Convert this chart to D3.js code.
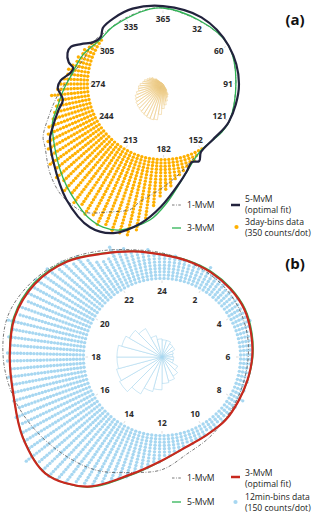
<!DOCTYPE html>
<html>
<head>
<meta charset="utf-8">
<script src="https://cdn.jsdelivr.net/npm/d3@7"></script>
<style>
body { margin: 0; background: #fff; }
svg { display: block; font-family: "Open Sans", sans-serif; }
</style>
</head>
<body>
<div id="chart-area"></div>
<script>
// ---------- panel (a): day of year, 3-day bins ----------
var dayLabels = [365, 32, 60, 91, 121, 152, 182, 213, 244, 274, 305, 335];
// dots per 3-day bin (122 bins, bin 0 starts at day 0)
var dayCounts = [
  0,0,0,0,0,0,0,0,0,0, 0,0,0,0,0,0,0,0,0,0,
  0,0,0,0,0,0,0,0,0,0, 0,0,0,0,0,0,0,0,0,0,
  0,0,0,0,0,0,0,0,0,0,
  1,1,2,3,3,4,5,6,7,9, 10,12,15,19,23,25,25,25,24,25,
  23,24,22,23,21,22,20,21,19,20, 18,18,17,16,15,13,12,11,10,12,
  10,9,8,7,7,6,5,5,4,4, 3,3,2,1,
  0,0,0,0,0,0,0,0,0,0, 0,0,0,0,0,0,0,0
];
// fitted densities (in dot units) at given days
var mvm1DaysA = [0, 60, 120, 150.9, 160.7, 173.8, 184.1, 193.6, 197.4, 205.3, 214.3, 221, 226.5, 235, 245.3, 249.6, 257.4, 268, 278.3, 288.1, 294.4, 304.8, 319, 335];
var mvm1ValsA = [0.6, 0.6, 0.6, 0.7, 2.1, 5.8, 9.5, 13.8, 16.9, 19.5, 23.1, 23.4, 23.1, 21.2, 18.1, 17.3, 13.7, 9.5, 5.7, 3.3, 2.5, 2.3, 0.9, 0.6];
var mvm3DaysA = [0, 60, 120, 153.9, 167.3, 180.5, 188.1, 199.1, 205.6, 212.3, 218.9, 226.1, 233.3, 246.4, 254.1, 261.4, 270.3, 278.3, 294, 309, 325];
var mvm3ValsA = [0.6, 0.6, 0.6, 1.0, 5.2, 13.5, 19.0, 23.7, 24.6, 23.9, 22.1, 20.2, 18.2, 14.8, 13.1, 10.3, 7.8, 5.7, 3.4, 0.9, 0.6];
var mvm5DaysA = [0, 30.4, 60.8, 91.3, 121.7, 139.9, 153, 157, 162, 167, 172.4, 183.5, 191.6, 201.2, 209.9, 223, 238.3, 247.4, 251.4, 259.6, 264.6, 271.7, 275.8, 280.8, 283.9, 286.9, 292, 296, 300.1, 305.2, 311.2, 317.4, 327.5, 342.7];
var mvm5ValsA = [1.2, 0.9, 0.6, 0.6, 0.6, 0.2, 1.2, 3.4, 2.8, 5.0, 7.7, 14.8, 20.3, 25.2, 26.3, 23.2, 18.2, 15.7, 13.8, 10.2, 8.3, 9.5, 8.6, 5.8, 5.2, 6.9, 8.0, 7.7, 5.2, 2.2, 1.2, 2.5, 2.5, 2.2];

// ---------- panel (b): hour of day, 12-min bins ----------
var hourLabels = [24, 2, 4, 6, 8, 10, 12, 14, 16, 18, 20, 22];
// dots per 12-min bin (120 bins, bin 0 starts at 0h)
var hourCounts = [
  8,7,8,7,7,6,7,7,6,8, 6,6,6,6,5,6,5,6,5,5,
  5,5,6,5,4,4,4,4,4,4, 4,4,3,4,3,4,3,4,3,5,
  3,4,3,4,3,4,3,4,4,3, 4,4,4,5,4,5,6,6,7,7,
  9,9,11,12,13,15,16,18,19,21, 22,23,25,26,27,27,26,29,26,26,
  25,24,25,23,24,23,23,24,23,24, 24,23,24,23,25,22,23,21,22,21,
  22,20,21,18,19,16,17,14,12,11, 11,14,12,12,10,10,9,10,8,8
];
// hourly rose (relative frequency, 1-hour sectors)
var hourRose = [0.35, 0.35, 0.31, 0.30, 0.24, 0.22, 0.24, 0.24, 0.37, 0.45, 0.51, 0.54, 0.67, 0.73, 0.87, 1.0, 0.96, 0.92, 0.92, 0.85, 0.77, 0.67, 0.45, 0.37];
// fitted densities (in dot units) at each full hour 0..23
var mvm1ValsB = [8.2, 6.6, 5.6, 4.9, 4.1, 3.4, 2.8, 2.55, 2.8, 3.5, 5.0, 6.9, 10.8, 12.9, 16.3, 18.6, 21.0, 23.3, 24.8, 25.0, 22.2, 18.2, 13.8, 10.3];
var mvm3ValsB = [7.7, 6.8, 6.3, 5.9, 5.5, 4.6, 4.0, 3.5, 3.4, 3.8, 3.9, 4.9, 8.0, 13.5, 22.0, 26.6, 25.4, 23.2, 22.8, 22.9, 21.1, 17.5, 12.8, 9.8];
var mvm5ValsB = [7.8, 7.0, 6.6, 6.2, 5.8, 4.9, 4.2, 3.6, 3.4, 3.7, 3.9, 4.9, 8.1, 13.8, 22.2, 26.5, 25.3, 23.2, 22.9, 23.2, 21.5, 17.8, 13.0, 9.9];

var W = 320, H = 514;
var step = 3.3, dotR = 1.7;

var svg = d3.select('#chart-area').append('svg')
    .attr('width', W)
    .attr('height', H);

var defs = svg.append('defs');
var gGold = defs.append('radialGradient')
    .attr('id', 'goldGrad').attr('gradientUnits', 'userSpaceOnUse')
    .attr('cx', 0).attr('cy', 0).attr('r', 24);
gGold.append('stop').attr('offset', '0%').attr('stop-color', '#b27a00').attr('stop-opacity', 1);
gGold.append('stop').attr('offset', '40%').attr('stop-color', '#e6b548').attr('stop-opacity', 0.45);
gGold.append('stop').attr('offset', '100%').attr('stop-color', '#ffffff').attr('stop-opacity', 0);

function polarPanel(opt) {
    var g = svg.append('g')
        .attr('transform', 'translate(' + opt.cx + ',' + opt.cy + ')');

    var nb = opt.counts.length;
    var binAng = d3.scaleLinear().domain([0, nb]).range([0, 2 * Math.PI]);
    var ang = d3.scaleLinear().domain([0, opt.period]).range([0, 2 * Math.PI]);
    var rad = d3.scaleLinear().domain([0, 1]).range([opt.r0, opt.r0 + step]);

    // rose in the middle
    var petals = opt.rose.map(function(v, i){ return { i: i, v: v }; });
    var roseAng = d3.scaleLinear().domain([0, petals.length]).range([0, 2 * Math.PI]);
    var rose = opt.roseScale.domain([0, d3.max(petals, function(d){ return d.v; })]).range([0, opt.roseMax]);
    var arc = d3.arc().innerRadius(0);
    g.selectAll('path.petal')
        .data(petals.filter(function(d){ return d.v > 0; }))
        .enter().append('path')
        .attr('class', 'petal')
        .attr('d', function(d){
            return arc({ startAngle: roseAng(d.i), endAngle: roseAng(d.i + 1), outerRadius: rose(d.v) });
        })
        .attr('fill', opt.roseFill)
        .attr('stroke', opt.roseStroke)
        .attr('stroke-width', 0.6);
    if (opt.centerDot) {
        g.append('circle').attr('r', 1.6).attr('fill', opt.dotColor);
    }

    // labels
    g.selectAll('text.lab')
        .data(opt.labels)
        .enter().append('text')
        .attr('class', 'lab')
        .attr('x', function(d){ return d3.pointRadial(ang(d % opt.period), opt.labR)[0]; })
        .attr('y', function(d){ return d3.pointRadial(ang(d % opt.period), opt.labR)[1]; })
        .attr('dy', '0.35em')
        .attr('text-anchor', 'middle')
        .attr('font-size', 8.4)
        .attr('font-weight', 700)
        .attr('fill', '#2b2b2b')
        .text(function(d){ return d; });

    // small ticks at the inner ring
    g.selectAll('line.tk')
        .data(opt.labels)
        .enter().append('line')
        .attr('class', 'tk')
        .attr('x1', function(d){ return d3.pointRadial(ang(d % opt.period), opt.r0 - 3)[0]; })
        .attr('y1', function(d){ return d3.pointRadial(ang(d % opt.period), opt.r0 - 3)[1]; })
        .attr('x2', function(d){ return d3.pointRadial(ang(d % opt.period), opt.r0 - 0.5)[0]; })
        .attr('y2', function(d){ return d3.pointRadial(ang(d % opt.period), opt.r0 - 0.5)[1]; })
        .attr('stroke', '#cfcfcf')
        .attr('stroke-width', 0.7);

    // dots
    var dots = [];
    opt.counts.forEach(function(c, i){
        for (var k = 0; k < c; k++) {
            dots.push(d3.pointRadial(binAng(i + 0.5), rad(k + 0.5)));
        }
    });
    g.selectAll('circle.dot')
        .data(dots)
        .enter().append('circle')
        .attr('class', 'dot')
        .attr('cx', function(d){ return d[0]; })
        .attr('cy', function(d){ return d[1]; })
        .attr('r', dotR)
        .attr('fill', opt.dotColor);

    // fitted curves
    var line = d3.lineRadial()
        .angle(function(d){ return ang(d[0]); })
        .radius(function(d){ return rad(d[1]); })
        .curve(d3.curveCatmullRomClosed.alpha(0.5));
    opt.curves.forEach(function(c){
        g.append('path')
            .datum(d3.zip(c.x, c.y))
            .attr('d', line)
            .attr('fill', 'none')
            .attr('stroke', c.color)
            .attr('stroke-width', c.width)
            .attr('stroke-dasharray', c.dash || null)
            .attr('stroke-linejoin', 'round');
    });
}

var dashDot = '3.2,1.6,0.8,1.6';
var hours = d3.range(24);

// rose of panel (a): 6-day sectors from the dot counts
var dayRose = d3.range(61).map(function(j){ return dayCounts[2 * j] + dayCounts[2 * j + 1]; });

polarPanel({
    cx: 163, cy: 84, r0: 74, labR: 65, period: 365,
    counts: dayCounts, labels: dayLabels, rose: dayRose, roseScale: d3.scaleSqrt(),
    dotColor: '#ffb000', roseMax: 37, roseFill: 'url(#goldGrad)', roseStroke: '#efcf8e',
    curves: [
        { x: mvm1DaysA, y: mvm1ValsA, color: '#555', width: 0.8, dash: dashDot },
        { x: mvm3DaysA, y: mvm3ValsA, color: '#2fb455', width: 1.3 },
        { x: mvm5DaysA, y: mvm5ValsA, color: '#22233d', width: 2.2 }
    ]
});

polarPanel({
    cx: 162, cy: 357, r0: 77, labR: 66, period: 24,
    counts: hourCounts, labels: hourLabels, rose: hourRose, roseScale: d3.scaleLinear(),
    dotColor: '#a7d7f1', roseMax: 49, roseFill: '#fff', roseStroke: '#a9d6ef', centerDot: true,
    curves: [
        { x: hours, y: mvm1ValsB, color: '#555', width: 0.8, dash: dashDot },
        { x: hours, y: mvm5ValsB, color: '#2fb455', width: 1.3 },
        { x: hours, y: mvm3ValsB, color: '#c8281e', width: 2.2 }
    ]
});

// panel letters
svg.append('text').attr('x', 295).attr('y', 25).attr('text-anchor', 'middle')
    .attr('font-size', 15).attr('font-weight', 700).attr('fill', '#111').text('(a)');
svg.append('text').attr('x', 295).attr('y', 269).attr('text-anchor', 'middle')
    .attr('font-size', 15).attr('font-weight', 700).attr('fill', '#111').text('(b)');

// legends
function legend(y0, items) {
    var lg = svg.append('g').attr('transform', 'translate(0,' + y0 + ')');
    items.forEach(function(it){
        if (it.kind === 'line') {
            lg.append('line').attr('x1', it.x).attr('x2', it.x + 9).attr('y1', it.y).attr('y2', it.y)
                .attr('stroke', it.color).attr('stroke-width', it.width)
                .attr('stroke-dasharray', it.dash || null);
        } else {
            lg.append('circle').attr('cx', it.x + 4.5).attr('cy', it.y).attr('r', 2.1).attr('fill', it.color);
        }
        it.text.forEach(function(t, k){
            lg.append('text')
                .attr('x', it.tx)
                .attr('y', it.ty + k * 11)
                .attr('dy', '0.35em')
                .attr('font-size', 8.6)
                .attr('font-weight', 500)
                .attr('fill', '#222')
                .text(t);
        });
    });
}

legend(205, [
    { kind: 'line', x: 172, y: 0, color: '#555', width: 0.8, dash: '2.5,1.5,0.8,1.5', tx: 187, ty: 0, text: ['1-MvM'] },
    { kind: 'line', x: 231, y: 0, color: '#22233d', width: 2.5, tx: 245, ty: -6, text: ['5-MvM', '(optimal fit)'] },
    { kind: 'line', x: 172, y: 23, color: '#2fb455', width: 1.3, tx: 187, ty: 23, text: ['3-MvM'] },
    { kind: 'dot', x: 232, y: 22, color: '#ffb000', tx: 245, ty: 17, text: ['3day-bins data', '(350 counts/dot)'] }
]);
legend(478, [
    { kind: 'line', x: 172, y: 0, color: '#555', width: 0.8, dash: '2.5,1.5,0.8,1.5', tx: 187, ty: 0, text: ['1-MvM'] },
    { kind: 'line', x: 231, y: -1, color: '#c8281e', width: 2.5, tx: 245, ty: -5, text: ['3-MvM', '(optimal fit)'] },
    { kind: 'line', x: 172, y: 24, color: '#2fb455', width: 1.3, tx: 187, ty: 24, text: ['5-MvM'] },
    { kind: 'dot', x: 231, y: 24, color: '#a7d7f1', tx: 245, ty: 19, text: ['12min-bins data', '(150 counts/dot)'] }
]);
</script>
</body>
</html>
